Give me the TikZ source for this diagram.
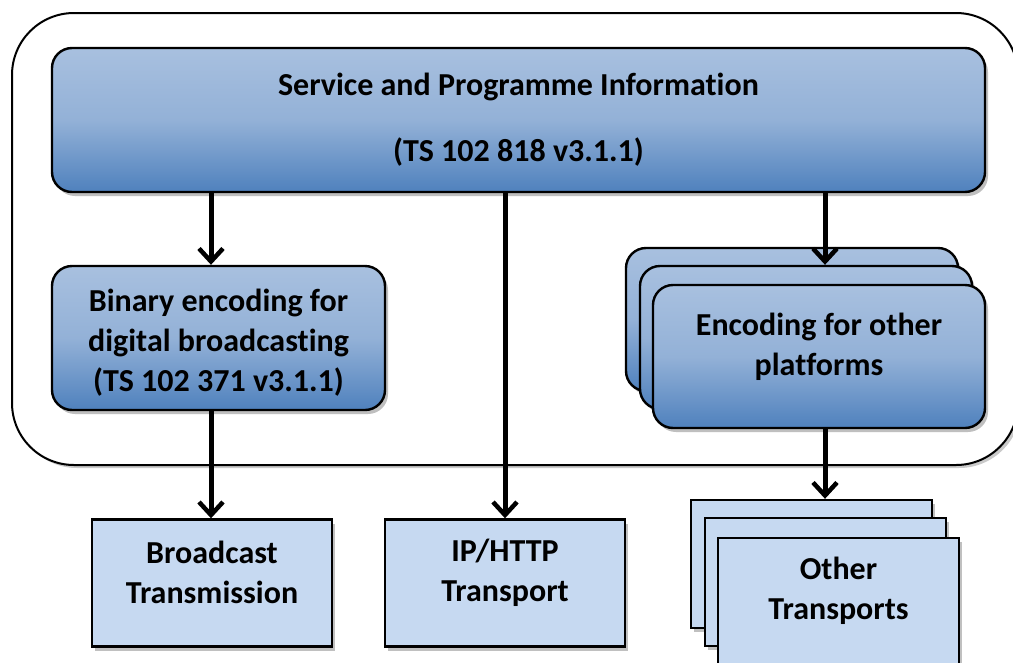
\documentclass[tikz,border=0pt]{standalone}
\usepackage{fontspec}
\setmainfont{Carlito}[Ligatures=NoCommon]
\usetikzlibrary{arrows.meta,shadows}
\definecolor{topc}{HTML}{A8C0DF}
\definecolor{midc}{HTML}{93B1D7}
\definecolor{botc}{HTML}{4F81BD}
\definecolor{lightc}{HTML}{C6D9F1}
\tikzset{
  shad/.style={drop shadow={shadow xshift=3pt,shadow yshift=-4pt,fill=black!45,opacity=.55}},
  bluebox/.style={draw=black,line width=2.4pt,rounded corners=20pt,
    top color=topc,bottom color=botc,middle color=midc,shad,inner sep=0pt},
  lightbox/.style={draw=black,line width=2.4pt,fill=lightc,shad,inner sep=0pt,
    minimum width=240pt,minimum height=127pt},
  lbl/.style={font=\bfseries\fontsize{32}{40}\selectfont,align=center,inner sep=0pt},
  arr/.style={line width=5pt,-{Straight Barb[length=13pt,width=24pt,line width=4.5pt]}},
}
\begin{document}
\begin{tikzpicture}[x=1pt,y=-1pt]
\useasboundingbox (0,0) rectangle (1013,662);
\begin{scope}
\clip (0,0) rectangle (1013,662);
% outer frame
\node[draw=black,line width=2pt,rounded corners=62pt,
  drop shadow={shadow xshift=3pt,shadow yshift=-3pt,fill=black!35,opacity=.6},
  fill=white,minimum width=1006pt,minimum height=452pt,inner sep=0pt] (frame) at (515,239) {};
% top box
\node[bluebox,minimum width=933pt,minimum height=144pt] (spi) at (518.5,120) {};
\node[lbl,font=\bfseries\fontsize{32}{66}\selectfont] (spiT) at (518.5,120)
  {Service and Programme Information\\(TS 102 818 v3.1.1)};
% binary box
\node[bluebox,minimum width=333pt,minimum height=144pt] (bin) at (218.5,338) {};
\node[lbl] (binT) at (218.5,343) {Binary encoding for\\digital broadcasting\\(TS 102 371 v3.1.1)};
% encoding stack
\node[bluebox,minimum width=332pt,minimum height=143pt] (encB) at (792,319.5) {};
\node[bluebox,minimum width=332pt,minimum height=143pt] (encM) at (806,337.5) {};
\node[bluebox,minimum width=332pt,minimum height=143pt] (encF) at (819,356.5) {};
\node[lbl] (encT) at (819,346.5) {Encoding for other\\platforms};
% bottom boxes
\node[lightbox] (bc) at (212,583) {};
\node[lbl] (bcT) at (212,572.5) {Broadcast\\Transmission};
\node[lightbox] (ip) at (505,583) {};
\node[lbl] (ipT) at (505,572.5) {IP/HTTP\\Transport};
\node[lightbox,minimum width=241pt,minimum height=128pt] (otB) at (811.5,564) {};
\node[lightbox,minimum width=241pt,minimum height=128pt] (otM) at (825.5,582) {};
\node[lightbox,minimum width=241pt,minimum height=128pt] (otF) at (838.5,602) {};
\node[lbl] (otT) at (838.5,591) {Other\\Transports};
% connectors
\coordinate (c1) at (211,0);
\coordinate (c2) at (505,0);
\coordinate (c3) at (825,0);
\draw[arr] (spi.south -| c1) -- (bin.north -| c1);
\draw[arr] (spi.south -| c2) -- (ip.north -| c2);
\draw[arr] (spi.south -| c3) -- (encM.north -| c3);
\draw[arr] (bin.south -| c1) -- (bc.north -| c1);
\draw[arr] (encF.south -| c3) -- (otB.north -| c3);
\end{scope}
\end{tikzpicture}
\end{document}
